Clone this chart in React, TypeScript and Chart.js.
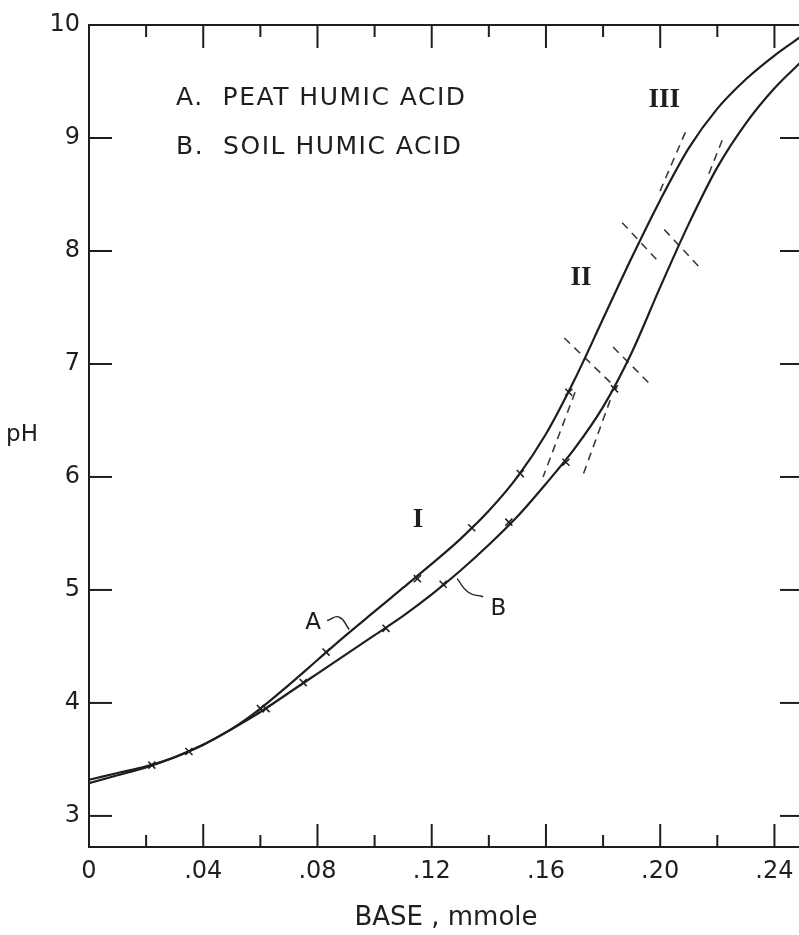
import React, { useEffect, useRef } from "react";
import { Chart, registerables } from "chart.js";

Chart.register(...registerables);

// ---- data ----
const baseA = [0, 0.01, 0.02, 0.03, 0.04, 0.05, 0.06, 0.07, 0.08, 0.09, 0.1, 0.11, 0.12, 0.13, 0.14, 0.15, 0.16, 0.17, 0.18, 0.19, 0.2, 0.21, 0.22, 0.23, 0.24, 0.25];
const phA = [3.29, 3.36, 3.43, 3.52, 3.63, 3.77, 3.95, 4.16, 4.38, 4.6, 4.81, 5.02, 5.23, 5.45, 5.7, 6.0, 6.38, 6.86, 7.4, 7.94, 8.45, 8.91, 9.26, 9.52, 9.73, 9.91];

const baseB = [0, 0.01, 0.02, 0.03, 0.04, 0.05, 0.06, 0.07, 0.08, 0.09, 0.1, 0.11, 0.12, 0.13, 0.14, 0.15, 0.16, 0.17, 0.18, 0.19, 0.2, 0.21, 0.22, 0.23, 0.24, 0.25];
const phB = [3.32, 3.38, 3.44, 3.52, 3.63, 3.77, 3.92, 4.09, 4.26, 4.43, 4.6, 4.77, 4.96, 5.17, 5.4, 5.65, 5.94, 6.25, 6.62, 7.1, 7.68, 8.24, 8.74, 9.13, 9.44, 9.69];

const markBaseA = [0.035, 0.06, 0.083, 0.115, 0.134, 0.151, 0.168];
const markPhA = [3.57, 3.95, 4.45, 5.1, 5.55, 6.03, 6.75];
const markBaseB = [0.022, 0.062, 0.075, 0.104, 0.124, 0.147, 0.167, 0.184];
const markPhB = [3.45, 3.95, 4.18, 4.66, 5.05, 5.6, 6.13, 6.78];

// dashed construction lines: [x1, y1, x2, y2]
const dashSegments = [
  [0.1664, 7.23, 0.1849, 6.78],
  [0.1835, 7.15, 0.1961, 6.83],
  [0.1867, 8.25, 0.2, 7.89],
  [0.2014, 8.19, 0.2147, 7.83],
  [0.1702, 6.75, 0.159, 6.0],
  [0.1825, 6.68, 0.173, 6.02],
  [0.2088, 9.05, 0.1996, 8.51],
  [0.2217, 8.98, 0.2165, 8.65],
];

// leader lines for labels A and B
const leaderABase = [0.0834, 0.0876, 0.0911];
const leaderAPh = [4.73, 4.76, 4.65];
const leaderBBase = [0.138, 0.1328, 0.1289];
const leaderBPh = [4.94, 4.98, 5.1];

const xTickValues = [0, 0.04, 0.08, 0.12, 0.16, 0.2, 0.24];
const xTickLabels = ["0", ".04", ".08", ".12", ".16", ".20", ".24"];
const xMinorValues = [0.02, 0.06, 0.1, 0.14, 0.18, 0.22];
const yTickValues = [3, 4, 5, 6, 7, 8, 9, 10];
const yTickLabels = ["3", "4", "5", "6", "7", "8", "9", "10"];

const legendTexts = ["A.  PEAT HUMIC ACID", "B.  SOIL HUMIC ACID"];
const romanTexts = ["I", "II", "III"];
const curveLabels = ["A", "B"];

const SANS = "'DejaVu Sans', sans-serif";
const SERIF = "'Liberation Serif', 'DejaVu Serif', serif";
const INK = "#1e1e1e";

const framePlugin = {
  id: "frameAndNotes",
  afterDatasetsDraw(chart: any) {
    const { ctx, chartArea, scales } = chart;
    const { left, right, top, bottom } = chartArea;
    const xs = scales.x;
    const ys = scales.y;
    const seg = (x1: number, y1: number, x2: number, y2: number) => {
      ctx.beginPath();
      ctx.moveTo(x1, y1);
      ctx.lineTo(x2, y2);
      ctx.stroke();
    };
    ctx.save();
    ctx.strokeStyle = INK;
    ctx.lineWidth = 2;
    ctx.lineCap = "butt";
    ctx.strokeRect(left, top, right - left, bottom - top);
    const major = 23;
    const minor = 12;
    xTickValues.forEach((v) => {
      const p = xs.getPixelForValue(v);
      seg(p, bottom, p, bottom - major);
      seg(p, top, p, top + major);
    });
    xMinorValues.forEach((v) => {
      const p = xs.getPixelForValue(v);
      seg(p, bottom, p, bottom - minor);
      seg(p, top, p, top + minor);
    });
    yTickValues.forEach((v) => {
      const p = ys.getPixelForValue(v);
      seg(left, p, left + major, p);
      seg(right, p, right - major, p);
    });

    ctx.fillStyle = INK;
    ctx.textBaseline = "middle";
    // legend
    ctx.font = `25px ${SANS}`;
    ctx.textAlign = "left";
    try {
      ctx.letterSpacing = "1.5px";
    } catch (e) {}
    ctx.fillText(legendTexts[0], xs.getPixelForValue(0.0305), ys.getPixelForValue(9.35));
    ctx.fillText(legendTexts[1], xs.getPixelForValue(0.0305), ys.getPixelForValue(8.92));
    try {
      ctx.letterSpacing = "0px";
    } catch (e) {}
    // curve labels
    ctx.textAlign = "center";
    ctx.font = `23px ${SANS}`;
    ctx.fillText(curveLabels[0], xs.getPixelForValue(0.0785), ys.getPixelForValue(4.71));
    ctx.fillText(curveLabels[1], xs.getPixelForValue(0.1433), ys.getPixelForValue(4.83));
    // roman numerals
    ctx.font = `bold 27px ${SERIF}`;
    ctx.fillText(romanTexts[0], xs.getPixelForValue(0.1152), ys.getPixelForValue(5.62));
    ctx.fillText(romanTexts[1], xs.getPixelForValue(0.1723), ys.getPixelForValue(7.76));
    ctx.fillText(romanTexts[2], xs.getPixelForValue(0.2014), ys.getPixelForValue(9.34));
    // y axis title
    ctx.font = `23px ${SANS}`;
    ctx.fillText("pH", left - 67, ys.getPixelForValue(6.37));
    ctx.restore();
  },
};

export default function App() {
  const ref = useRef<HTMLCanvasElement | null>(null);
  useEffect(() => {
    if (!ref.current) return;
    const toPts = (xsArr: number[], ysArr: number[]) => xsArr.map((x, i) => ({ x, y: ysArr[i] }));
    const datasets: any[] = [
      {
        label: "A. Peat humic acid",
        data: toPts(baseA, phA),
        borderColor: INK,
        borderWidth: 2.2,
        pointRadius: 0,
        cubicInterpolationMode: "monotone",
        fill: false,
      },
      {
        label: "B. Soil humic acid",
        data: toPts(baseB, phB),
        borderColor: INK,
        borderWidth: 2.2,
        pointRadius: 0,
        cubicInterpolationMode: "monotone",
        fill: false,
      },
      {
        label: "A points",
        data: toPts(markBaseA, markPhA),
        showLine: false,
        pointStyle: "crossRot",
        pointRadius: 5,
        borderColor: INK,
        borderWidth: 1.5,
      },
      {
        label: "B points",
        data: toPts(markBaseB, markPhB),
        showLine: false,
        pointStyle: "crossRot",
        pointRadius: 5,
        borderColor: INK,
        borderWidth: 1.5,
      },
      {
        label: "leader A",
        data: toPts(leaderABase, leaderAPh),
        borderColor: INK,
        borderWidth: 1.4,
        pointRadius: 0,
        tension: 0.5,
      },
      {
        label: "leader B",
        data: toPts(leaderBBase, leaderBPh),
        borderColor: INK,
        borderWidth: 1.4,
        pointRadius: 0,
        tension: 0.5,
      },
      ...dashSegments.map((s, i) => ({
        label: "dash " + i,
        data: [
          { x: s[0], y: s[1] },
          { x: s[2], y: s[3] },
        ],
        borderColor: "#3a3a3a",
        borderWidth: 1.6,
        borderDash: [8, 6],
        pointRadius: 0,
      })),
    ];

    const chart = new Chart(ref.current, {
      type: "line",
      data: { datasets },
      options: {
        animation: false,
        responsive: false,
        devicePixelRatio: 1,
        layout: { padding: { left: 0, top: 25, right: 27, bottom: 0 } },
        plugins: { legend: { display: false }, tooltip: { enabled: false }, title: { display: false } },
        scales: {
          x: {
            type: "linear",
            min: 0,
            max: 0.25,
            afterBuildTicks: (s: any) => {
              s.ticks = xTickValues.map((v) => ({ value: v }));
            },
            afterFit: (s: any) => {
              s.height = 88;
            },
            ticks: {
              autoSkip: false,
              maxRotation: 0,
              padding: 10,
              color: INK,
              font: { family: SANS, size: 24 },
              callback: (_v: any, i: number) => xTickLabels[i],
            },
            grid: { display: false, drawTicks: false },
            border: { display: false },
            title: {
              display: true,
              text: "BASE , mmole",
              color: INK,
              font: { family: SANS, size: 26 },
              padding: { top: 0, bottom: 1 },
            },
          },
          y: {
            type: "linear",
            min: 2.725,
            max: 10,
            afterBuildTicks: (s: any) => {
              s.ticks = yTickValues.map((v) => ({ value: v }));
            },
            afterFit: (s: any) => {
              s.width = 89;
            },
            ticks: {
              autoSkip: false,
              padding: 9,
              color: INK,
              font: { family: SANS, size: 24 },
              callback: (_v: any, i: number) => yTickLabels[i],
            },
            grid: { display: false, drawTicks: false },
            border: { display: false },
          },
        },
      },
      plugins: [framePlugin],
    });
    return () => chart.destroy();
  }, []);

  return (
    <div style={{ position: "fixed", left: 0, top: 0, width: 799, height: 935, overflow: "hidden", background: "#fff" }}>
      <canvas ref={ref} width={830} height={935} style={{ display: "block", width: 830, height: 935 }} />
    </div>
  );
}
